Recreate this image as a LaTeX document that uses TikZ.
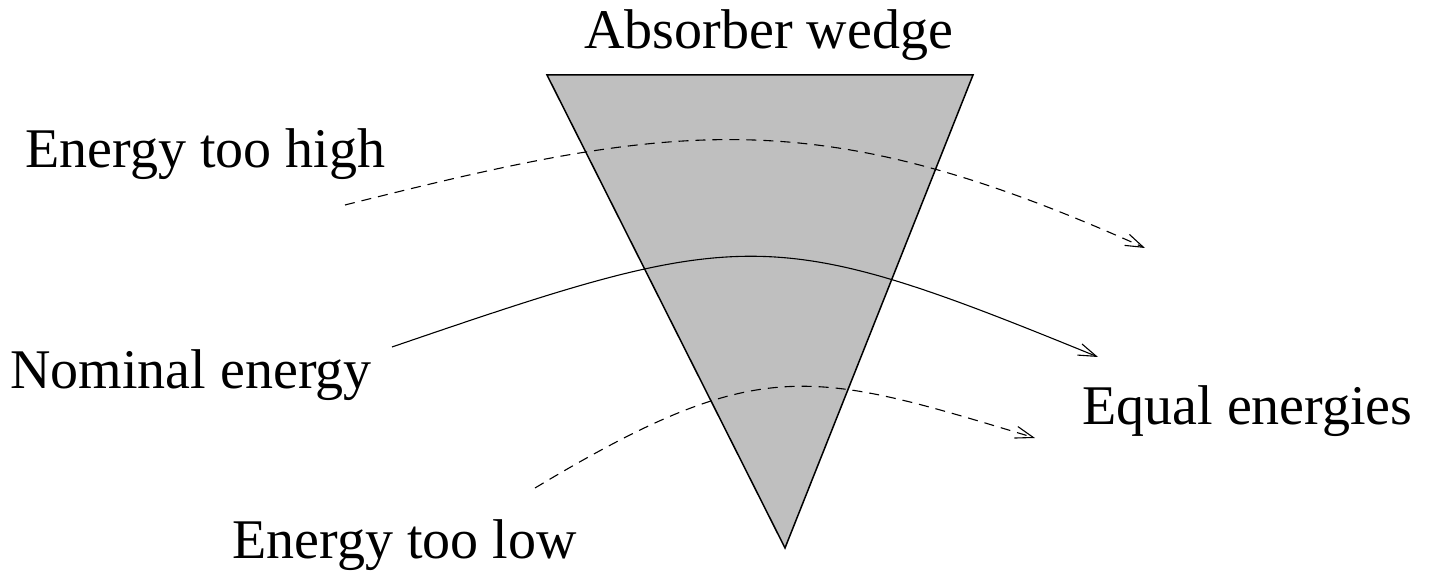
\documentclass[tikz,border=0pt]{standalone}
\usepackage{fontspec}
\setmainfont{Liberation Serif}
\usetikzlibrary{arrows.meta}

\begin{document}
\begin{tikzpicture}[
    x=0.5pt,
    y=-0.5pt,
    label/.style={
        anchor=base west,
        inner sep=0pt,
        font=\fontsize{28}{34}\selectfont
    },
    wedge/.style={
        draw,
        fill=black!25,
        line width=0.75pt,
        line join=miter
    },
    track/.style={
        -{Straight Barb[length=9pt,width=6pt]},
        line width=0.55pt
    },
    offtrack/.style={
        track,
        dash pattern=on 5pt off 3.5pt
    }
]

\useasboundingbox (0,0) rectangle (1435,571);

% Absorber wedge
\coordinate (wl) at (547,75);
\coordinate (wr) at (973,75);
\coordinate (wb) at (785,548);
\draw[wedge] (wl) -- (wr) -- (wb) -- cycle;

% Labels
\node[label] (title) at (584,49) {Absorber wedge};
\node[label] (high) at (25,168) {Energy too high};
\node[label] (nominal) at (10,389) {Nominal energy};
\node[label] (equal) at (1082,425) {Equal energies};
\node[label] (low) at (232,558) {Energy too low};

% Track ends
\coordinate (h0) at (345,205);
\coordinate (h1) at (1145,248);
\coordinate (n0) at (392,347);
\coordinate (n1) at (1098,357);
\coordinate (l0) at (535,488);
\coordinate (l1) at (1035,438);

% Tracks
\draw[offtrack] (h0) .. controls (675,122) and (815,100) .. (h1);
\draw[track] (n0) .. controls (745,226) and (770,223) .. (n1);
\draw[offtrack] (l0) .. controls (760,353) and (810,370) .. (l1);

\end{tikzpicture}
\end{document}
